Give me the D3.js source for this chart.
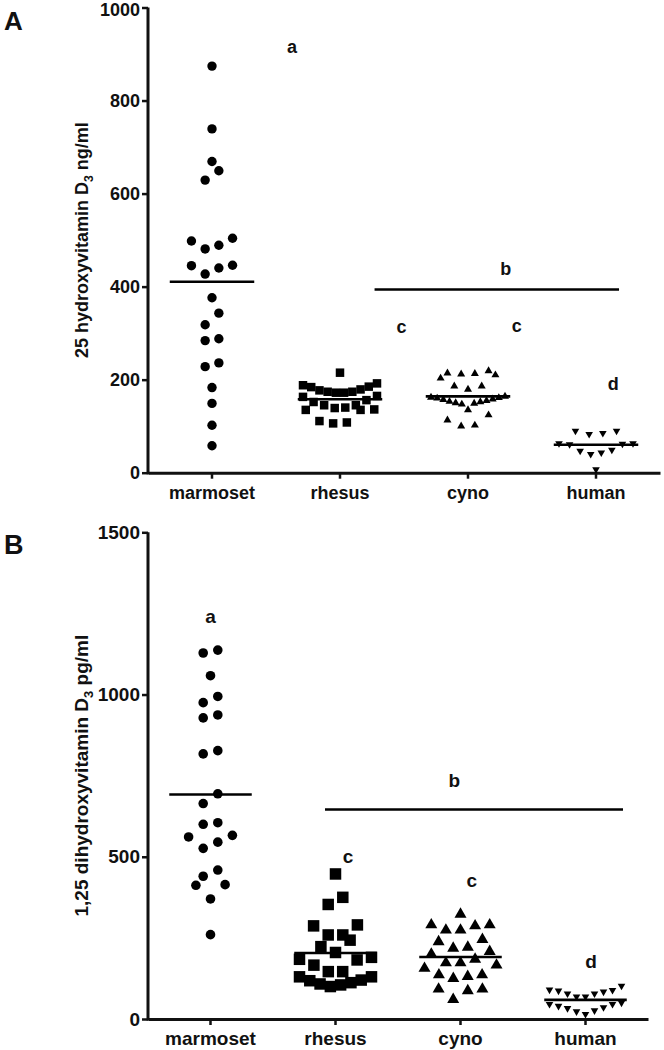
<!DOCTYPE html>
<html><head><meta charset="utf-8">
<script src="https://cdn.jsdelivr.net/npm/d3@7"></script>
<style>
body{margin:0;background:#fff}
svg{display:block}
text{font-family:"Liberation Sans",Arial,Helvetica,sans-serif;font-weight:bold;fill:#111}
</style>
</head><body>
<svg id="chart" width="664" height="1050"></svg>
<script>
// ---------- data ----------
const categories = ["marmoset", "rhesus", "cyno", "human"];

// Panel A: 25 hydroxyvitamin D3 (ng/ml)
const marmosetA = [874, 739, 669, 649, 629, 504, 498, 489, 481, 446, 445, 440, 427, 376, 343, 318, 288, 284, 236, 228, 183, 149, 102, 58];
const rhesusA = [215, 192, 188, 185, 184, 179, 177, 174, 174, 172, 172, 165, 163, 156, 152, 145, 145, 140, 139, 136, 135, 135, 111, 108, 106];
const cynoA = [219, 214, 213, 212, 210, 203, 186, 186, 179, 164, 162, 161, 160, 158, 157, 155, 153, 152, 150, 149, 147, 135, 124, 113, 102, 100];
const humanA = [90, 90, 85, 83, 63, 63, 62, 61, 49, 47, 43, 40, 7];
const ticksA = [0, 200, 400, 600, 800, 1000];

// Panel B: 1,25 dihydroxyvitamin D3 (pg/ml)
const marmosetB = [1137, 1128, 1058, 994, 975, 937, 928, 827, 817, 694, 664, 605, 600, 566, 561, 545, 526, 459, 440, 414, 412, 370, 260];
const rhesusB = [447, 375, 353, 290, 287, 259, 259, 243, 223, 205, 190, 184, 182, 166, 146, 146, 130, 130, 120, 118, 112, 108, 105, 100];
const cynoB = [323, 290, 290, 287, 274, 274, 245, 238, 221, 218, 208, 200, 184, 173, 173, 166, 156, 136, 136, 131, 125, 92, 92, 87, 60];
const humanB = [102, 90, 89, 87, 84, 78, 78, 69, 69, 50, 46, 46, 40, 36, 33, 26, 23, 15];
const ticksB = [0, 500, 1000, 1500];

// significance letters: [label, category, offset in bands, value]
const lettersA = [["a", "marmoset", 0.625, 903], ["b", "cyno", 0.295, 424], ["c", "rhesus", 0.48, 300], ["c", "cyno", 0.38, 302], ["d", "human", 0.135, 177]];
const barA = [["rhesus", 0.27], ["human", 0.18], 394];
const lettersB = [["a", "marmoset", 0.0, 1220], ["b", "cyno", -0.05, 716], ["c", "rhesus", 0.1, 481], ["c", "cyno", 0.09, 407], ["d", "human", 0.044, 157]];
const barB = [["rhesus", -0.084], ["human", 0.30], 646];

// ---------- drawing ----------
const svg = d3.select("#chart");
const symbolTypes = [d3.symbolCircle, d3.symbolSquare, d3.symbolTriangle, d3.symbolTriangle];

const panels = [
  {
    letter: "A", letterX: 4, letterY: 30, letterSize: 26,
    series: [marmosetA, rhesusA, cynoA, humanA], ticks: ticksA, domain: [0, 1000],
    xRange: [148, 660], yRange: [472.7, 7.5], fs: 18,
    title: ["25 hydroxyvitamin D", "3", " ng/ml"], titleX: 87.5,
    sizes: [Math.PI * 4.7 * 4.7, 8.5 * 8.5, 8 * 8 * Math.sqrt(3) / 4, 7.6 * 7.6 * Math.sqrt(3) / 4],
    step: 13.7, maxW: 74, rowT: 14.5,
    letters: lettersA, bar: barA, labelPad: 8
  },
  {
    letter: "B", letterX: 4, letterY: 554, letterSize: 27,
    series: [marmosetB, rhesusB, cynoB, humanB], ticks: ticksB, domain: [0, 1500],
    xRange: [148, 648], yRange: [1019, 532.3], fs: 19,
    title: ["1,25 dihydroxyvitamin D", "3", " pg/ml"], titleX: 87.5,
    sizes: [Math.PI * 4.8 * 4.8, 11.5 * 11.5, 12 * 12 * Math.sqrt(3) / 4, 7.6 * 7.6 * Math.sqrt(3) / 4],
    step: 14.6, maxW: 72, rowT: 14.5,
    letters: lettersB, bar: barB, labelPad: 6.5
  }
];

function layoutRows(values, y, T, S, W) {
  const pts = values.map(v => ({v: v, py: y(v)})).sort((a, b) => a.v - b.v);
  const rows = [];
  let cur = null;
  pts.forEach(p => {
    if (!cur || Math.abs(p.py - cur.start) > T) { cur = {start: p.py, pts: []}; rows.push(cur); }
    cur.pts.push(p);
  });
  rows.forEach(r => {
    const n = r.pts.length;
    const st = n > 1 ? Math.min(S, W / (n - 1)) : 0;
    const slots = d3.range(n).map(i => (i - (n - 1) / 2) * st)
      .sort((a, b) => Math.abs(a) - Math.abs(b) || a - b);
    r.pts.forEach((p, i) => { p.dx = slots[i]; });
  });
  return pts;
}

panels.forEach(P => {
  const g = svg.append("g");
  const x = d3.scaleBand().domain(categories).range(P.xRange).paddingInner(0).paddingOuter(0);
  const y = d3.scaleLinear().domain(P.domain).range(P.yRange);
  const bw = x.bandwidth();
  const cx = c => x(c) + bw / 2;

  // axes
  const yAxis = d3.axisLeft(y).tickValues(P.ticks).tickSize(6).tickSizeOuter(0).tickPadding(2).tickFormat(d3.format("d"));
  const xAxis = d3.axisBottom(x).tickSize(6).tickSizeOuter(0).tickPadding(P.labelPad);
  const ya = g.append("g").attr("transform", `translate(${P.xRange[0]},0)`).call(yAxis);
  const xa = g.append("g").attr("transform", `translate(0,${P.yRange[0]})`).call(xAxis);
  [ya, xa].forEach(a => {
    a.select(".domain").attr("stroke", "#111").attr("stroke-width", 3);
    a.selectAll(".tick line").attr("stroke", "#111").attr("stroke-width", 2.5);
    a.selectAll(".tick text").attr("font-size", P.fs).attr("fill", "#111")
      .style("font-family", '"Liberation Sans",Arial,sans-serif').style("font-weight", "bold");
  });
  ya.select(".domain").attr("d", `M0,${P.yRange[0] + 1.5}V${P.yRange[1]}`);
  // keep the top tick label fully inside the canvas
  ya.selectAll(".tick text").filter(d => y(d) < 12).attr("dy", "0.42em");

  // y title
  const t = g.append("text")
    .attr("transform", `translate(${P.titleX},${(P.yRange[0] + P.yRange[1]) / 2}) rotate(-90)`)
    .attr("text-anchor", "middle").attr("font-size", P.fs);
  t.append("tspan").text(P.title[0]);
  t.append("tspan").text(P.title[1]).attr("font-size", P.fs * 0.68).attr("dy", P.fs * 0.3);
  t.append("tspan").text(P.title[2]).attr("dy", -P.fs * 0.3);

  // panel letter
  g.append("text").attr("x", P.letterX).attr("y", P.letterY).attr("font-size", P.letterSize).text(P.letter);

  // points
  P.series.forEach((vals, i) => {
    const c = categories[i];
    const pts = layoutRows(vals, y, P.rowT, P.step, P.maxW);
    const sym = d3.symbol().type(symbolTypes[i]).size(P.sizes[i]);
    g.append("g").selectAll("path").data(pts).join("path")
      .attr("d", sym)
      .attr("transform", d => `translate(${cx(c) + d.dx},${d.py})` + (i === 3 ? " rotate(180)" : ""))
      .attr("fill", "#000");
    const m = d3.mean(vals);
    g.append("line")
      .attr("x1", cx(c) - bw * 0.33).attr("x2", cx(c) + bw * 0.33)
      .attr("y1", y(m)).attr("y2", y(m))
      .attr("stroke", "#000").attr("stroke-width", 2.6);
  });

  // significance letters
  P.letters.forEach(L => {
    g.append("text").attr("x", cx(L[1]) + L[2] * bw).attr("y", y(L[3]))
      .attr("text-anchor", "middle").attr("font-size", P.fs).text(L[0]);
  });
  const b = P.bar;
  g.append("line")
    .attr("x1", cx(b[0][0]) + b[0][1] * bw).attr("x2", cx(b[1][0]) + b[1][1] * bw)
    .attr("y1", y(b[2])).attr("y2", y(b[2]))
    .attr("stroke", "#000").attr("stroke-width", 2.5);
});
</script>
</body></html>
